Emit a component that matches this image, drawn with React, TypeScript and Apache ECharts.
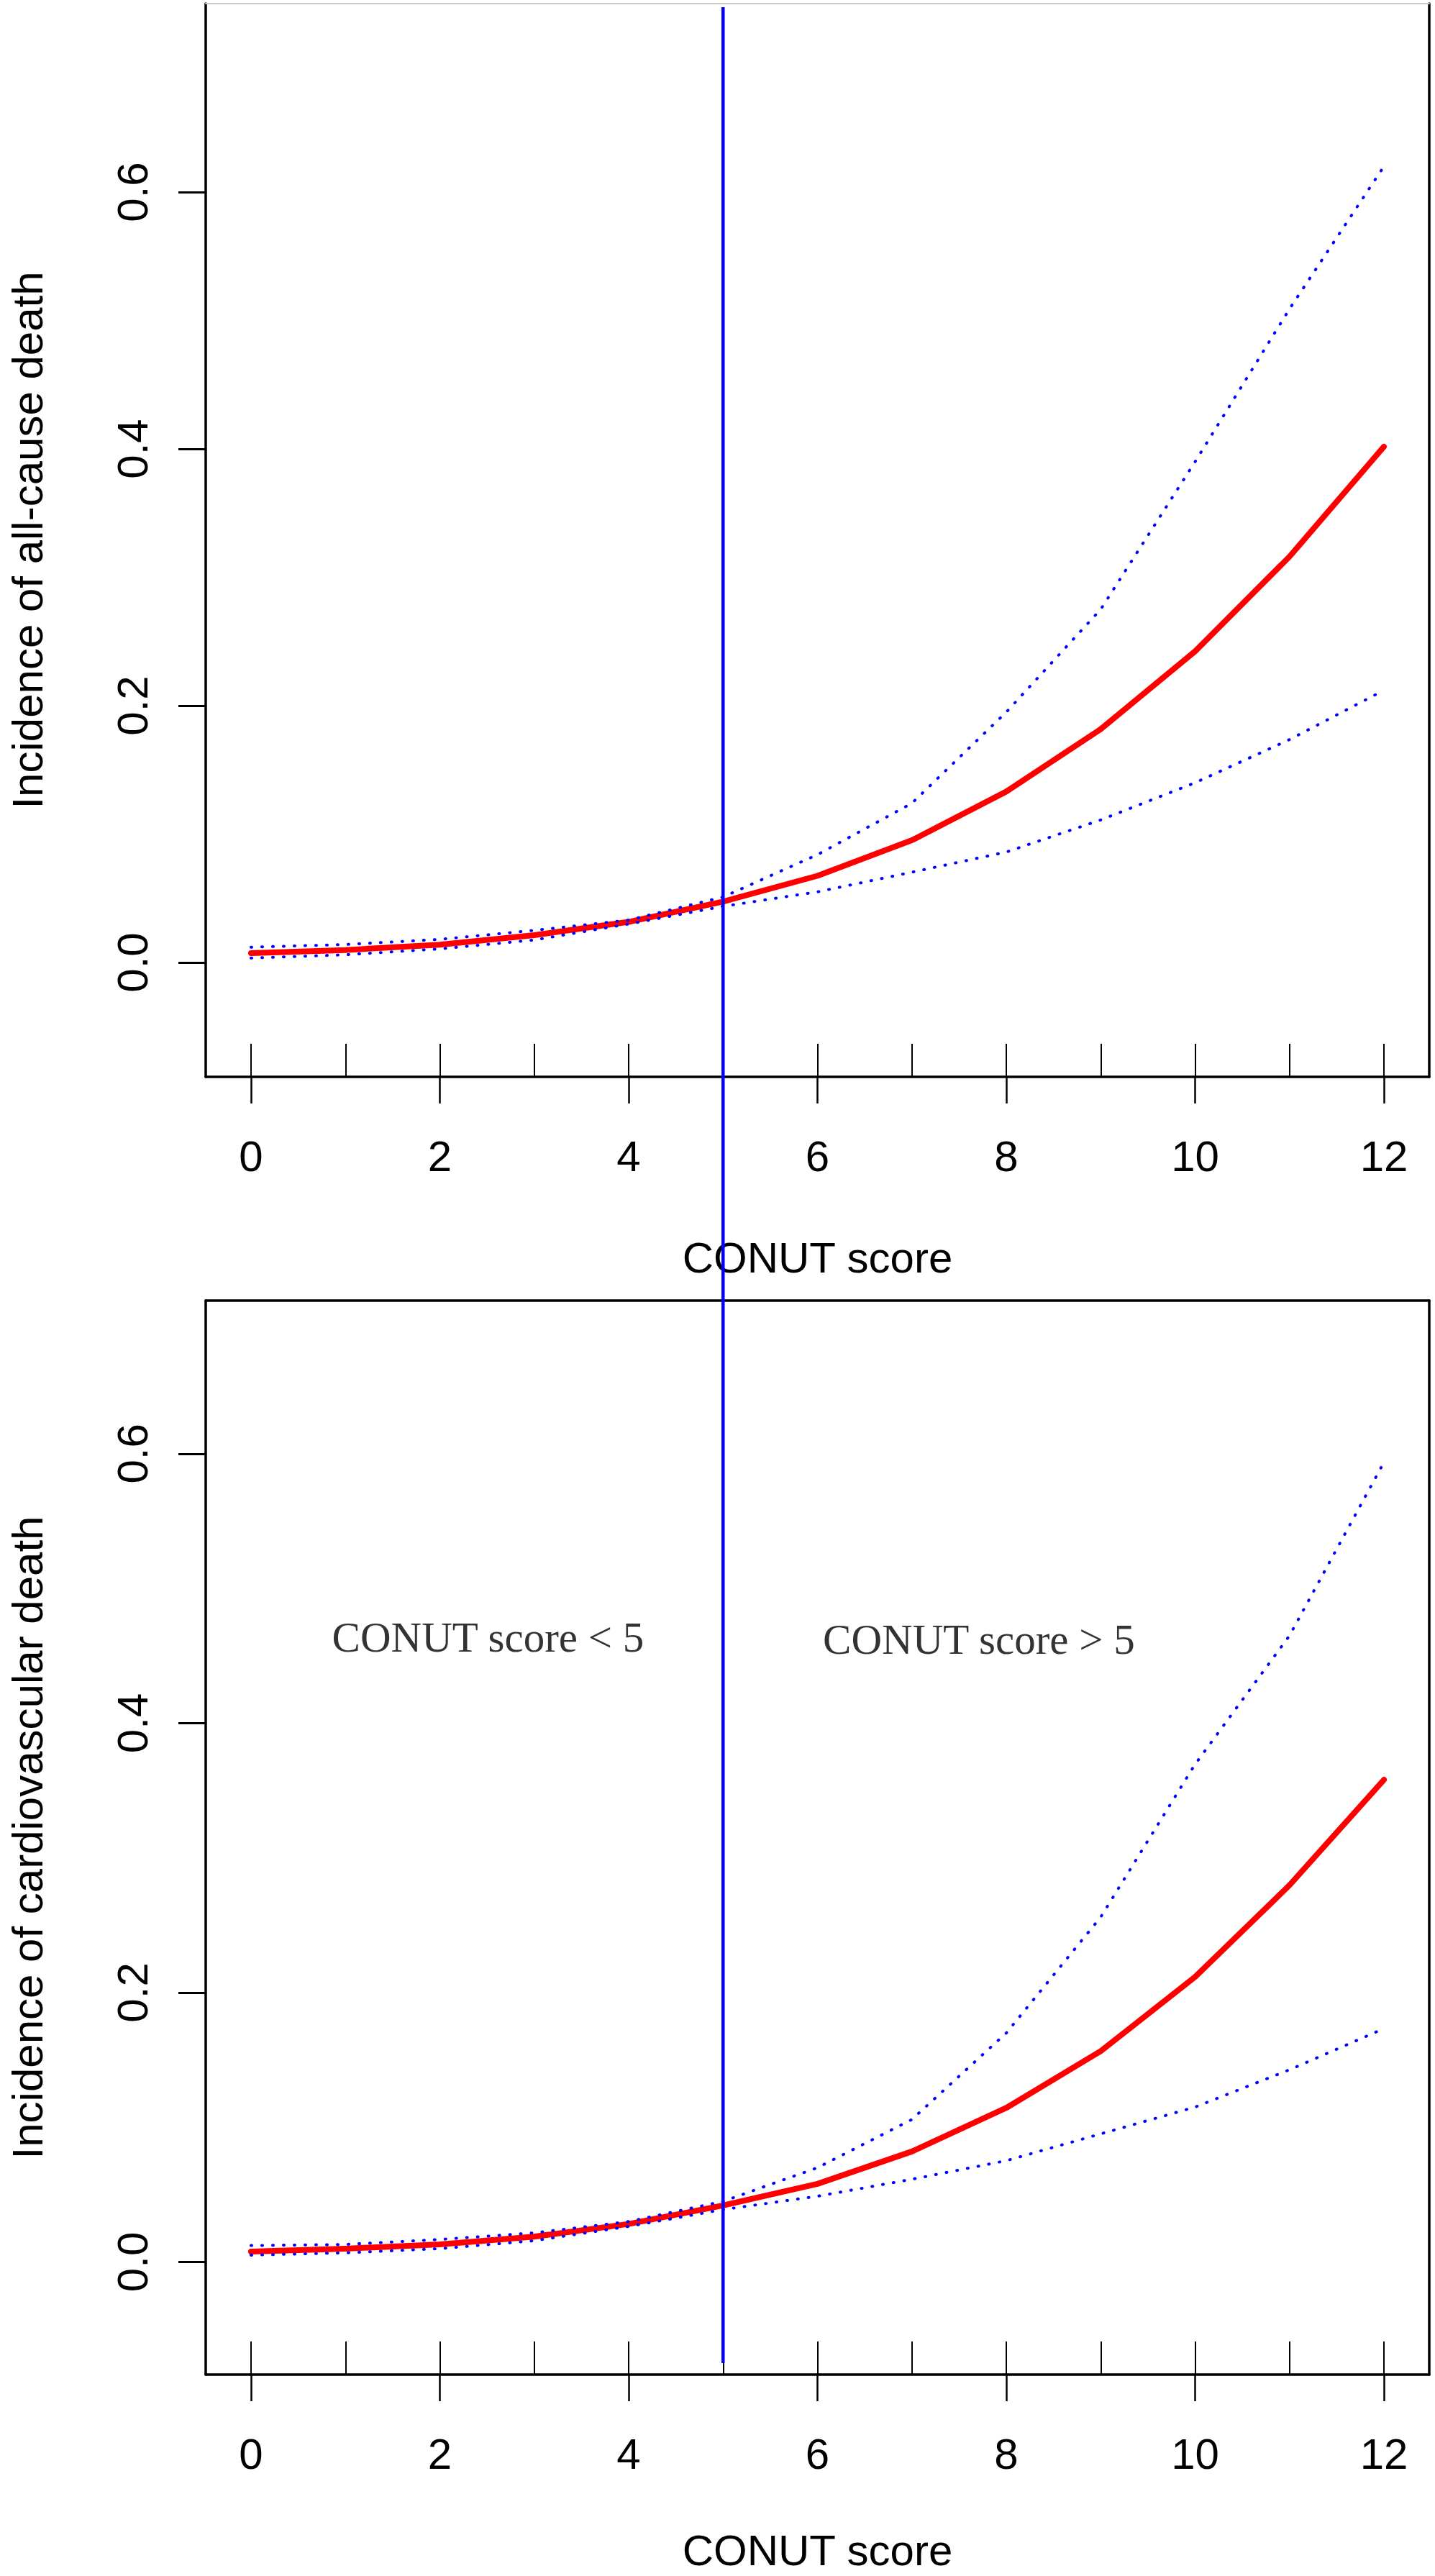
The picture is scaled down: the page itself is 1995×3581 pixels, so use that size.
import React, { useEffect, useRef } from "react";
import * as echarts from "echarts";

// ---- data ----
const SCORES = [0, 1, 2, 3, 4, 5, 6, 7, 8, 9, 10, 11, 12];

const ALL_EST = [0.0073, 0.0097, 0.0138, 0.0213, 0.0316, 0.0474, 0.0675, 0.0952, 0.1331, 0.1817, 0.2424, 0.3161, 0.4017];
const ALL_UPPER = [0.0119, 0.014, 0.018, 0.025, 0.033, 0.051, 0.084, 0.124, 0.195, 0.275, 0.39, 0.509, 0.62];
const ALL_LOWER = [0.0035, 0.006, 0.0106, 0.0175, 0.03, 0.0437, 0.055, 0.0703, 0.086, 0.111, 0.14, 0.1736, 0.212];

const CV_EST = [0.0077, 0.0099, 0.0131, 0.0188, 0.0282, 0.042, 0.058, 0.082, 0.1144, 0.1565, 0.2116, 0.2797, 0.358];
const CV_UPPER = [0.0122, 0.013, 0.0167, 0.0216, 0.03, 0.045, 0.07, 0.1058, 0.17, 0.256, 0.3695, 0.465, 0.5936];
const CV_LOWER = [0.0051, 0.0068, 0.0099, 0.0158, 0.0264, 0.0389, 0.0488, 0.0614, 0.0752, 0.0951, 0.115, 0.1427, 0.1733];

const X_TICKS = [0, 2, 4, 6, 8, 10, 12];
const RUG_TICKS = SCORES;
const Y_TICKS = [0, 0.2, 0.4, 0.6];

const X_RANGE = [-0.48, 12.48];
const Y_RANGE_TOP = [-0.0891, 0.7468];
const Y_RANGE_BOTTOM = [-0.0836, 0.7137];

const CUTOFF = 5;
const CUTOFF_TOP_VALUE = 0.744; // on top panel y-axis
const CUTOFF_BOTTOM_VALUE = -0.075; // on bottom panel y-axis

const REGION_LABELS = [
  { x: 2.51, y: 0.464, text: "CONUT score < 5" },
  { x: 7.71, y: 0.462, text: "CONUT score > 5" },
];

const X_TITLE = "CONUT score";
const Y_TITLE_TOP = "Incidence of all-cause death";
const Y_TITLE_BOTTOM = "Incidence of cardiovascular death";

const SANS = "'Liberation Sans', Arial, Helvetica, sans-serif";
const SERIF = "'Liberation Serif', 'Times New Roman', serif";

const zip = (ys: number[]) => SCORES.map((s, i) => [s, ys[i]]);

function mainXAxis(gridIndex: number, nameGap: number) {
  return {
    type: "value",
    gridIndex,
    position: "bottom",
    min: X_RANGE[0],
    max: X_RANGE[1],
    axisLine: { show: true, onZero: false, lineStyle: { color: "#000", width: 3.5 } },
    axisTick: { show: true, inside: false, length: 37, customValues: X_TICKS, lineStyle: { color: "#000", width: 2.5 } },
    axisLabel: { show: true, customValues: X_TICKS, margin: 80, fontSize: 60, fontFamily: SANS, color: "#000" },
    splitLine: { show: false },
    name: X_TITLE,
    nameLocation: "middle",
    nameGap,
    nameTextStyle: { fontSize: 60, lineHeight: 50, fontFamily: SANS, color: "#000" },
  };
}

function rugXAxis(gridIndex: number) {
  return {
    type: "value",
    gridIndex,
    position: "bottom",
    min: X_RANGE[0],
    max: X_RANGE[1],
    axisLine: { show: false, onZero: false },
    axisTick: { show: true, inside: true, length: 46, customValues: RUG_TICKS, lineStyle: { color: "#000", width: 2 } },
    axisLabel: { show: false },
    splitLine: { show: false },
  };
}

function topXAxis(gridIndex: number, color: string, width: number) {
  return {
    type: "value",
    gridIndex,
    position: "top",
    min: X_RANGE[0],
    max: X_RANGE[1],
    axisLine: { show: true, onZero: false, lineStyle: { color, width } },
    axisTick: { show: false },
    axisLabel: { show: false },
    splitLine: { show: false },
  };
}

function leftYAxis(gridIndex: number, range: number[], name: string) {
  return {
    type: "value",
    gridIndex,
    position: "left",
    min: range[0],
    max: range[1],
    axisLine: { show: true, onZero: false, lineStyle: { color: "#000", width: 3.5 } },
    axisTick: { show: true, inside: false, length: 38, customValues: Y_TICKS, lineStyle: { color: "#000", width: 3 } },
    axisLabel: {
      show: true,
      customValues: Y_TICKS,
      rotate: 90,
      margin: 72,
      fontSize: 60,
      fontFamily: SANS,
      color: "#000",
      formatter: (v: number) => v.toFixed(1),
    },
    splitLine: { show: false },
    name,
    nameLocation: "middle",
    nameGap: 218,
    nameTextStyle: { fontSize: 60, fontFamily: SANS, color: "#000" },
  };
}

function rightYAxis(gridIndex: number, range: number[]) {
  return {
    type: "value",
    gridIndex,
    position: "right",
    min: range[0],
    max: range[1],
    axisLine: { show: true, onZero: false, lineStyle: { color: "#000", width: 3.5 } },
    axisTick: { show: false },
    axisLabel: { show: false },
    splitLine: { show: false },
  };
}

function estSeries(xAxisIndex: number, yAxisIndex: number, ys: number[], name: string) {
  return {
    type: "line",
    name,
    xAxisIndex,
    yAxisIndex,
    data: zip(ys),
    symbol: "none",
    z: 3,
    lineStyle: { color: "#FF0000", width: 8, cap: "round", join: "round" },
  };
}

function ciSeries(xAxisIndex: number, yAxisIndex: number, ys: number[], name: string) {
  return {
    type: "line",
    name,
    xAxisIndex,
    yAxisIndex,
    data: zip(ys),
    symbol: "none",
    z: 4,
    lineStyle: { color: "#0000FF", width: 4, type: [1, 14], cap: "round" },
  };
}

export default function App() {
  const ref = useRef<HTMLDivElement>(null);

  useEffect(() => {
    if (!ref.current) return;
    const chart = echarts.init(ref.current, null, { renderer: "svg" });
    const option: any = {
      animation: false,
      backgroundColor: "#fff",
      grid: [
        { left: 280, top: 5, width: 1707, height: 1492, containLabel: false },
        { left: 280, top: 1808, width: 1707, height: 1493, containLabel: false },
      ],
      xAxis: [
        mainXAxis(0, 226),
        rugXAxis(0),
        topXAxis(0, "#c8c8c8", 2),
        mainXAxis(1, 219),
        rugXAxis(1),
        topXAxis(1, "#000", 3.5),
      ],
      yAxis: [
        leftYAxis(0, Y_RANGE_TOP, Y_TITLE_TOP),
        rightYAxis(0, Y_RANGE_TOP),
        leftYAxis(1, Y_RANGE_BOTTOM, Y_TITLE_BOTTOM),
        rightYAxis(1, Y_RANGE_BOTTOM),
      ],
      series: [
        estSeries(0, 0, ALL_EST, "all-cause estimate"),
        ciSeries(0, 0, ALL_UPPER, "all-cause upper"),
        ciSeries(0, 0, ALL_LOWER, "all-cause lower"),
        estSeries(3, 2, CV_EST, "cardiovascular estimate"),
        ciSeries(3, 2, CV_UPPER, "cardiovascular upper"),
        ciSeries(3, 2, CV_LOWER, "cardiovascular lower"),
        {
          type: "scatter",
          xAxisIndex: 3,
          yAxisIndex: 2,
          symbolSize: 0,
          data: REGION_LABELS.map((d) => [d.x, d.y, d.text]),
          label: {
            show: true,
            position: "inside",
            formatter: (p: any) => p.data[2],
            fontFamily: SERIF,
            fontSize: 59,
            color: "#000",
          },
          z: 5,
        },
      ],
    };
    chart.setOption(option);
    const x = chart.convertToPixel({ xAxisIndex: 0 }, CUTOFF) as number;
    const yTop = chart.convertToPixel({ yAxisIndex: 0 }, CUTOFF_TOP_VALUE) as number;
    const yBottom = chart.convertToPixel({ yAxisIndex: 2 }, CUTOFF_BOTTOM_VALUE) as number;
    chart.setOption({
      graphic: [
        {
          type: "line",
          z: 100,
          shape: { x1: x, y1: yTop, x2: x, y2: yBottom },
          style: { stroke: "#0000FF", lineWidth: 4.5 },
        },
      ],
    });
    return () => chart.dispose();
  }, []);

  return (
    <div
      ref={ref}
      style={{ position: "absolute", left: 0, top: 0, width: 1995, height: 3581, background: "#fff" }}
    />
  );
}
